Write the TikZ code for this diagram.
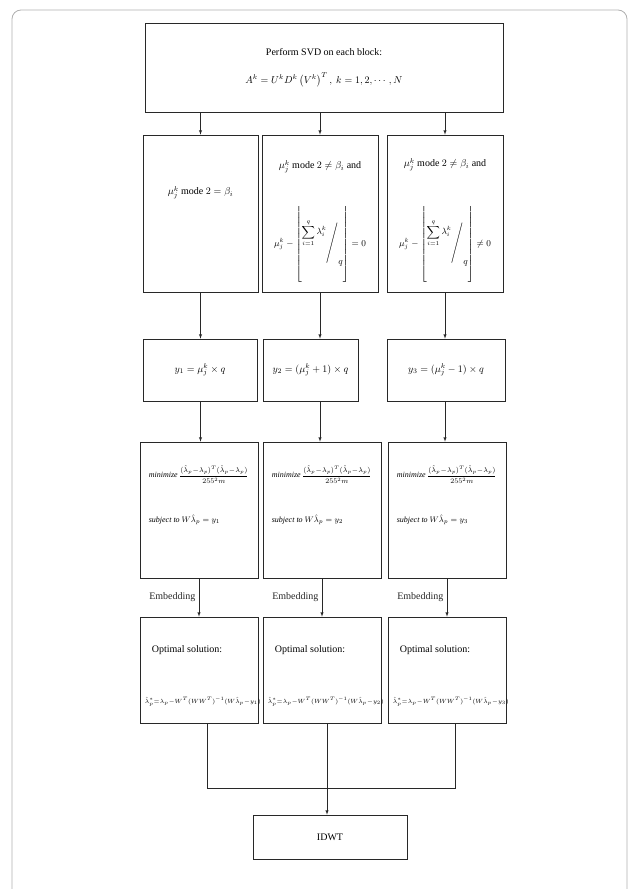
\documentclass[tikz,border=0pt]{standalone}
\usepackage{fontspec}
\setmainfont{Liberation Serif}
\usepackage{amsmath}
\usepackage{graphicx}
\usetikzlibrary{arrows, math}
\definecolor{myframe}{RGB}{175,175,175}
\definecolor{myline}{RGB}{40,40,40}

\tikzset{
  blockbox/.style={draw=myline, line width=0.7pt, inner sep=0pt, align=center},
  flow/.style={-latex, line width=0.5pt, myline},
  joinline/.style={line width=0.5pt, myline},
}
\newcommand{\tightmath}{\medmuskip=0.5mu\thickmuskip=1mu\thinmuskip=0.5mu}

\begin{document}
\begin{tikzpicture}[x=1pt, y=-1pt]
\tikzmath{
\rowA=67.5;
\rowB=213.5;
\rowC=370;
\rowD=510;
\rowE=670;
}
\useasboundingbox (0,0) rectangle (634,889);
\draw[myframe, line width=0.8pt, rounded corners=9pt] (12,889) -- (12,10) -- (627,10) -- (627,889);

% SVD block
\node[blockbox, minimum width=358pt, minimum height=89pt] (svd) at (324,\rowA)
  {Perform SVD on each block:\\[16pt] $A^k=U^kD^k\left(V^k\right)^T,\ k=1,2,\cdots,N$};

% conditions
\node[blockbox, minimum width=115pt, minimum height=157pt] (c1) at (200.5,\rowB) {};
\node[blockbox, minimum width=116pt, minimum height=157pt] (c2) at (320,\rowB) {};
\node[blockbox, minimum width=116pt, minimum height=157pt] (c3) at (445,\rowB) {};
\node at ([yshift=-58pt]c1.north) {$\mu_j^k$ mode $2=\beta_i$};
\node at ([yshift=-32pt]c2.north) {$\mu_j^k$ mode $2\neq\beta_i$ and};
\node at ([yshift=-30pt]c3.north) {$\mu_j^k$ mode $2\neq\beta_i$ and};
\node at ([yshift=-110pt]c2.north) {\small$\mu_j^k-\left\lfloor\rule[-36pt]{0pt}{72pt}\raisebox{12pt}{$\displaystyle\sum_{i=1}^{q}\lambda_i^k$}\scalebox{1}[1.5]{$\Bigg/$}\raisebox{-18pt}{$q$}\right\rfloor=0$};
\node at ([yshift=-110pt]c3.north) {\small$\mu_j^k-\left\lfloor\rule[-36pt]{0pt}{72pt}\raisebox{12pt}{$\displaystyle\sum_{i=1}^{q}\lambda_i^k$}\scalebox{1}[1.5]{$\Bigg/$}\raisebox{-18pt}{$q$}\right\rfloor\neq0$};

% targets
\node[blockbox, minimum width=114pt, minimum height=62pt] (y1) at (200,\rowC) {$y_1=\mu_j^k\times q$};
\node[blockbox, minimum width=95pt, minimum height=62pt] (y2) at (310.5,\rowC) {$y_2=(\mu_j^k+1)\times q$};
\node[blockbox, minimum width=118pt, minimum height=62pt] (y3) at (446,\rowC) {$y_3=(\mu_j^k-1)\times q$};

% optimisation and solution
\node[blockbox, minimum width=118pt, minimum height=136pt] (m1) at (199,\rowD) {};
\node[blockbox, minimum width=118pt, minimum height=136pt] (m2) at (322,\rowD) {};
\node[blockbox, minimum width=118pt, minimum height=136pt] (m3) at (447,\rowD) {};
\node[blockbox, minimum width=118pt, minimum height=106pt] (o1) at (199,\rowE) {};
\node[blockbox, minimum width=118pt, minimum height=106pt] (o2) at (322,\rowE) {};
\node[blockbox, minimum width=118pt, minimum height=106pt] (o3) at (447,\rowE) {};
\foreach \i in {1,2,3}{
  \node[anchor=west, inner sep=0pt] at ([xshift=9pt,yshift=-33pt]m\i.north west)
    {\footnotesize\textit{minimize}\,\scriptsize$\tightmath\dfrac{(\hat{\lambda}_p-\lambda_p)^T(\hat{\lambda}_p-\lambda_p)}{255^2m}$};
  \node[anchor=west, inner sep=0pt] at ([xshift=9pt,yshift=-78pt]m\i.north west)
    {\footnotesize\textit{subject to} $W\hat{\lambda}_p=y_\i$};
  \node[anchor=west, inner sep=0pt] at ([xshift=12pt,yshift=-33pt]o\i.north west) {Optimal solution:};
  \node[anchor=west, inner sep=0pt] at ([xshift=5pt,yshift=-85pt]o\i.north west)
    {\fontsize{6.2}{8}\selectfont$\tightmath\hat{\lambda}_p^{*}=\lambda_p-W^T(WW^T)^{-1}(W\hat{\lambda}_p-y_\i)$};
}

\node[blockbox, minimum width=154pt, minimum height=44pt] (idwt) at (330,837) {IDWT};

% connectors
\foreach \i in {1,2,3}{
  \draw[flow] (svd.south -| c\i.north) -- (c\i.north);
  \draw[flow] (c\i.south) -- (c\i.south |- y\i.north);
  \draw[flow] (c\i.center |- y\i.south) -- (c\i.center |- m\i.north);
  \draw[flow] (m\i.south) -- node[left]{Embedding} (o\i.north);
}
\coordinate (join) at (327,788);
\draw[joinline] ([xshift=8pt]o1.south) |- (join) -| ([xshift=8pt]o3.south);
\draw[flow] ([xshift=5pt]o2.south) -- ([xshift=5pt]o2.south |- idwt.north);

\end{tikzpicture}
\end{document}
